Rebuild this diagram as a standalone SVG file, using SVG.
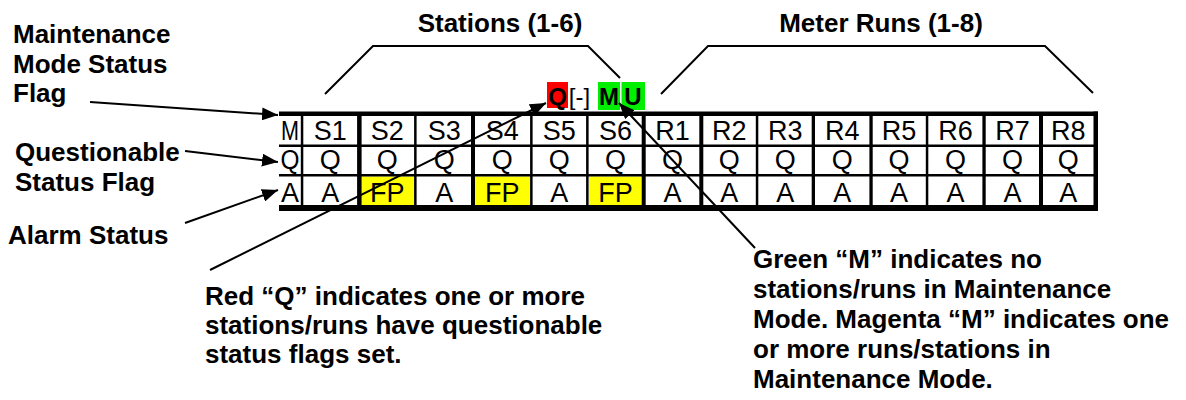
<svg xmlns="http://www.w3.org/2000/svg" width="1186" height="400" viewBox="0 0 1186 400">
<defs>
<style>
.lbl{font-family:"Liberation Sans",Arial,sans-serif;font-weight:bold;font-size:26px;fill:#000}
.ttl{font-family:"Liberation Sans",Arial,sans-serif;font-weight:bold;font-size:26px;fill:#000;text-anchor:middle}
.cell{font-family:"Liberation Sans",Arial,sans-serif;font-size:27px;fill:#000;text-anchor:middle}
.st{font-family:"Liberation Sans",Arial,sans-serif;font-size:24px;fill:#000;text-anchor:middle}
.conn{stroke:#000;stroke-width:2;fill:none}
.grid{fill:#000}
.yel{fill:#ffff00}
</style>
<marker id="ah" markerUnits="userSpaceOnUse" markerWidth="17" markerHeight="13" refX="16" refY="6.5" orient="auto"><path d="M0,0 L16,6.5 L0,13 z" fill="#000"/></marker>
</defs>
<rect width="1186" height="400" fill="#fff"/>

<g id="title-stations"><text class="ttl" x="500" y="32">Stations (1-6)</text></g>
<g id="title-meter-runs"><text class="ttl" x="881" y="32">Meter Runs (1-8)</text></g>

<g id="brackets">
<polyline class="conn" points="325,94 373,46 588,46 620,78"/>
<polyline class="conn" points="661,94 708,46 1045,46 1093,93"/>
</g>

<g id="label-maintenance">
<text class="lbl" x="13" y="43">Maintenance</text>
<text class="lbl" x="13" y="73">Mode Status</text>
<text class="lbl" x="13" y="102">Flag</text>
</g>
<g id="label-questionable">
<text class="lbl" x="15" y="161">Questionable</text>
<text class="lbl" x="15" y="191">Status Flag</text>
</g>
<g id="label-alarm">
<text class="lbl" x="8" y="244">Alarm Status</text>
</g>

<g id="status-indicators">
<rect x="547" y="82" width="21" height="26" fill="#ff0000"/>
<text class="st" x="557.5" y="105" font-weight="bold">Q</text>
<text class="st" x="579.5" y="105">[-]</text>
<rect x="598" y="82" width="22" height="28" fill="#00ee00"/>
<rect x="621.5" y="82" width="23.5" height="28" fill="#00ee00"/>
<text class="st" x="609" y="105" font-weight="bold">M</text>
<text class="st" x="633" y="105" font-weight="bold">U</text>
</g>

<g id="status-table">
<rect class="yel" x="361.5" y="176.5" width="52.5" height="28.5"/>
<rect class="yel" x="475" y="176.5" width="55" height="28.5"/>
<rect class="yel" x="589" y="176.5" width="52.7" height="28.5"/>
<rect class="grid" x="279" y="111.5" width="819" height="4.5"/>
<rect class="grid" x="279" y="144.5" width="819" height="2.5"/>
<rect class="grid" x="279" y="174" width="819" height="2.5"/>
<rect class="grid" x="279" y="205" width="819" height="6"/>
<rect class="grid" x="300.8" y="116" width="2.5" height="89"/>
<rect class="grid" x="357.1" y="116" width="4.5" height="89"/>
<rect class="grid" x="414.1" y="116" width="2.5" height="89"/>
<rect class="grid" x="471" y="116" width="4" height="89"/>
<rect class="grid" x="530.1" y="116" width="2.5" height="89"/>
<rect class="grid" x="586.1" y="116" width="2.5" height="89"/>
<rect class="grid" x="641.7" y="116" width="4" height="89"/>
<rect class="grid" x="699.3" y="116" width="4" height="89"/>
<rect class="grid" x="755.8" y="116" width="2.5" height="89"/>
<rect class="grid" x="811.7" y="116" width="3.3" height="89"/>
<rect class="grid" x="869.4" y="116" width="3.3" height="89"/>
<rect class="grid" x="925.8" y="116" width="2.5" height="89"/>
<rect class="grid" x="982.4" y="116" width="3.3" height="89"/>
<rect class="grid" x="1039" y="116" width="4" height="89"/>
<rect class="grid" x="1093.5" y="111.5" width="4.5" height="99.5"/>
<g id="row-m">
<text class="cell" x="290" y="140" textLength="18" lengthAdjust="spacingAndGlyphs">M</text>
<text class="cell" x="330.2" y="140">S1</text>
<text class="cell" x="387.3" y="140">S2</text>
<text class="cell" x="444.2" y="140">S3</text>
<text class="cell" x="502.2" y="140">S4</text>
<text class="cell" x="559.3" y="140">S5</text>
<text class="cell" x="615.5" y="140">S6</text>
<text class="cell" x="672.5" y="140">R1</text>
<text class="cell" x="729.2" y="140">R2</text>
<text class="cell" x="785.2" y="140">R3</text>
<text class="cell" x="842.2" y="140">R4</text>
<text class="cell" x="899" y="140">R5</text>
<text class="cell" x="955.5" y="140">R6</text>
<text class="cell" x="1012.5" y="140">R7</text>
<text class="cell" x="1068.2" y="140">R8</text>
</g>
<g id="row-q">
<text class="cell" x="290" y="169" textLength="19" lengthAdjust="spacingAndGlyphs">Q</text>
<text class="cell" x="330.2" y="169">Q</text>
<text class="cell" x="387.3" y="169">Q</text>
<text class="cell" x="444.2" y="169">Q</text>
<text class="cell" x="502.2" y="169">Q</text>
<text class="cell" x="559.3" y="169">Q</text>
<text class="cell" x="615.5" y="169">Q</text>
<text class="cell" x="672.5" y="169">Q</text>
<text class="cell" x="729.2" y="169">Q</text>
<text class="cell" x="785.2" y="169">Q</text>
<text class="cell" x="842.2" y="169">Q</text>
<text class="cell" x="899" y="169">Q</text>
<text class="cell" x="955.5" y="169">Q</text>
<text class="cell" x="1012.5" y="169">Q</text>
<text class="cell" x="1068.2" y="169">Q</text>
</g>
<g id="row-a">
<text class="cell" x="290" y="201.5" textLength="18" lengthAdjust="spacingAndGlyphs">A</text>
<text class="cell" x="330.2" y="201.5">A</text>
<text class="cell" x="387.3" y="201.5">FP</text>
<text class="cell" x="444.2" y="201.5">A</text>
<text class="cell" x="502.2" y="201.5">FP</text>
<text class="cell" x="559.3" y="201.5">A</text>
<text class="cell" x="615.5" y="201.5">FP</text>
<text class="cell" x="672.5" y="201.5">A</text>
<text class="cell" x="729.2" y="201.5">A</text>
<text class="cell" x="785.2" y="201.5">A</text>
<text class="cell" x="842.2" y="201.5">A</text>
<text class="cell" x="899" y="201.5">A</text>
<text class="cell" x="955.5" y="201.5">A</text>
<text class="cell" x="1012.5" y="201.5">A</text>
<text class="cell" x="1068.2" y="201.5">A</text>
</g>
</g>

<g id="note-red-q">
<text class="lbl" x="205" y="305">Red “Q” indicates one or more</text>
<text class="lbl" x="205" y="334">stations/runs have questionable</text>
<text class="lbl" x="205" y="363">status flags set.</text>
</g>
<g id="note-green-m">
<text class="lbl" x="753" y="268">Green “M” indicates no</text>
<text class="lbl" x="753" y="298">stations/runs in Maintenance</text>
<text class="lbl" x="753" y="328">Mode. Magenta “M” indicates one</text>
<text class="lbl" x="753" y="358">or more runs/stations in</text>
<text class="lbl" x="753" y="388">Maintenance Mode.</text>
</g>

<g id="connectors">
<line class="conn" x1="90" y1="102" x2="278" y2="115" marker-end="url(#ah)"/>
<line class="conn" x1="185" y1="151" x2="278" y2="162" marker-end="url(#ah)"/>
<line class="conn" x1="185" y1="223" x2="278" y2="190" marker-end="url(#ah)"/>
<line class="conn" x1="210" y1="270" x2="546" y2="103" marker-end="url(#ah)"/>
<line class="conn" x1="755" y1="248" x2="619" y2="103" marker-end="url(#ah)"/>
</g>
</svg>
